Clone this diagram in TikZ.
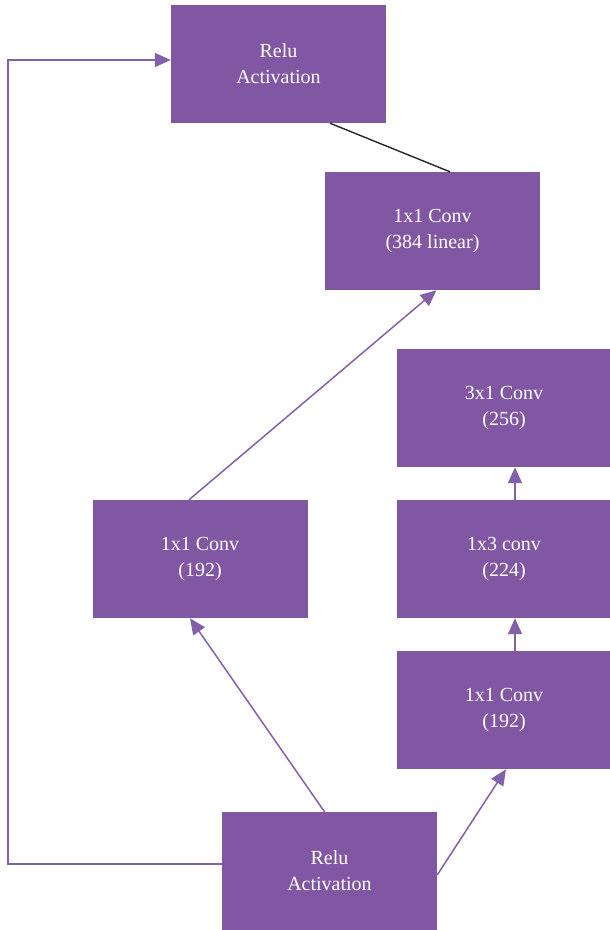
\documentclass[tikz,border=0pt]{standalone}
\usepackage{fontspec}
\setmainfont{Liberation Serif}
\usetikzlibrary{arrows.meta}
\definecolor{blockpurple}{HTML}{8157A4}
\definecolor{linepurple}{HTML}{8360AA}
\begin{document}
\begin{tikzpicture}[x=1pt,y=-1pt,
  block/.style={fill=blockpurple, draw=none, minimum width=215pt, minimum height=118pt,
    text=white, align=center, font=\fontsize{20}{26}\selectfont, inner sep=0pt},
  flow/.style={draw=linepurple, line width=1.5pt, -{Triangle[length=16pt,width=14pt]}},
  plain/.style={draw=black!85, line width=1.4pt}]
  \useasboundingbox (0,0) rectangle (610,930);

  % blocks
  \node[block] (reluTop) at (278.5,64) {Relu\\Activation};
  \node[block] (conv384) at (432.5,231) {1x1 Conv\\(384 linear)};
  \node[block] (conv256) at (504,408) {3x1 Conv\\(256)};
  \node[block] (conv224) at (504,559) {1x3 conv\\(224)};
  \node[block] (conv192r) at (504,710) {1x1 Conv\\(192)};
  \node[block] (conv192l) at (200,559) {1x1 Conv\\(192)};
  \node[block] (reluBot) at (329.5,871) {Relu\\Activation};

  % corners of the shortcut path
  \coordinate (loopLow) at (8,864);
  \coordinate (loopHigh) at (8,60);

  % connectors
  \draw[flow] (loopLow -| reluBot.west) -- (loopLow) -- (loopHigh) -- (loopHigh -| reluTop.west);
  \draw[flow] ([xshift=-5pt]reluBot.north) -- ([xshift=-10pt]conv192l.south);
  \draw[flow] ([xshift=-11pt]conv192l.north) -- ([xshift=4pt]conv384.south);
  \draw[flow] ([yshift=-4pt]reluBot.east) -- ([xshift=2pt]conv192r.south);
  \draw[flow] ([xshift=11pt]conv192r.north) -- ([xshift=11pt]conv224.south);
  \draw[flow] ([xshift=11pt]conv224.north) -- ([xshift=11pt]conv256.south);
  \draw[plain] ([xshift=51.5pt]reluTop.south) -- ([xshift=17.5pt]conv384.north);
\end{tikzpicture}
\end{document}
